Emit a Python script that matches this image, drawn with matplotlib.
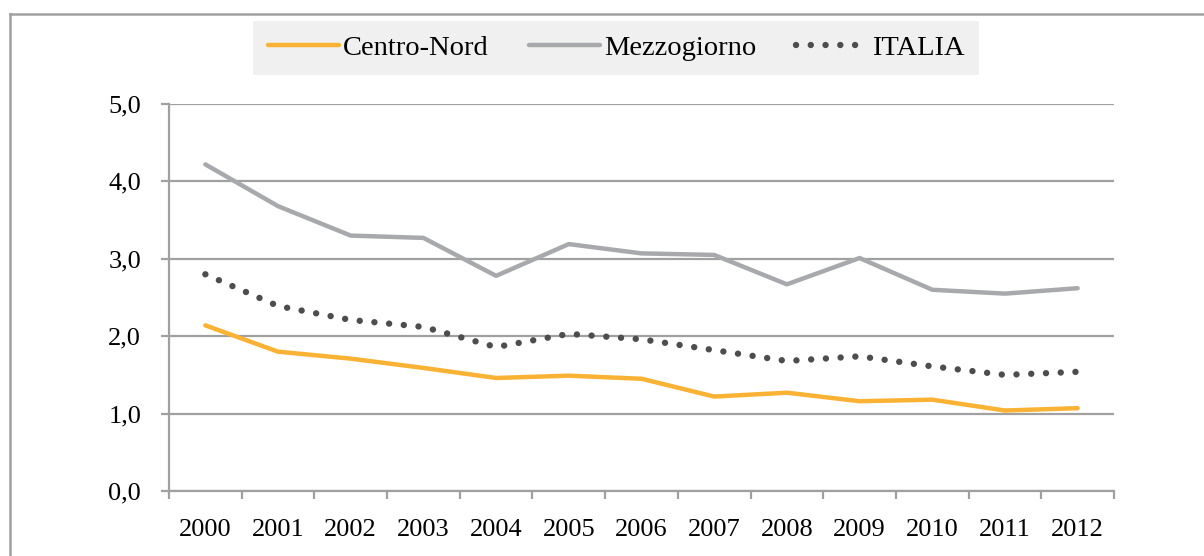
import matplotlib
matplotlib.use('Agg')
import matplotlib.pyplot as plt
from matplotlib.lines import Line2D
from matplotlib.ticker import FuncFormatter

plt.rcParams['font.family'] = ['Liberation Serif', 'DejaVu Serif']

years = ['2000', '2001', '2002', '2003', '2004', '2005', '2006',
         '2007', '2008', '2009', '2010', '2011', '2012']
centro_nord = [2.14, 1.80, 1.71, 1.59, 1.46, 1.49, 1.45, 1.22, 1.27, 1.16, 1.18, 1.04, 1.07]
mezzogiorno = [4.22, 3.68, 3.30, 3.27, 2.78, 3.19, 3.07, 3.05, 2.67, 3.01, 2.60, 2.55, 2.62]
italia = [2.80, 2.39, 2.21, 2.12, 1.86, 2.03, 1.96, 1.82, 1.68, 1.74, 1.61, 1.50, 1.54]

fig = plt.figure(figsize=(12.04, 5.56), dpi=100)
ax = fig.add_axes([169 / 1204, 1 - 491 / 556, (1114 - 169) / 1204, (491 - 104) / 556])

x = list(range(len(years)))
ax.plot(x, centro_nord, color='#F9B233', lw=3.2, label='Centro-Nord', solid_capstyle='round')
ax.plot(x, mezzogiorno, color='#A7A9AC', lw=3.2, label='Mezzogiorno', solid_capstyle='round')
ax.plot(x, italia, color='#4D4D4D', lw=4.6, linestyle=(0, (0.01, 2.3)),
        dash_capstyle='round', label='ITALIA')

ax.set_xlim(-0.5, len(years) - 0.5)
ax.set_ylim(0, 5)
ax.set_yticks([0, 1, 2, 3, 4, 5])
ax.yaxis.set_major_formatter(FuncFormatter(lambda v, p: ('%.1f' % v).replace('.', ',')))
ax.set_xticks(x)
ax.set_xticklabels(years)
ax.set_xticks([i - 0.5 for i in range(len(years) + 1)], minor=True)

grid_col = '#A0A0A0'
ax.grid(axis='y', color=grid_col, lw=1.6)
ax.set_axisbelow(True)
for s in ['top', 'right']:
    ax.spines[s].set_visible(False)
for s in ['left', 'bottom']:
    ax.spines[s].set_color(grid_col)
    ax.spines[s].set_linewidth(1.6)
ax.tick_params(axis='y', length=6, width=1.6, color=grid_col, pad=14, labelsize=19)
ax.tick_params(axis='x', which='major', length=0, pad=20, labelsize=19)
ax.tick_params(axis='x', which='minor', length=6, width=1.6, color=grid_col)

leg = fig.legend(loc='center', bbox_to_anchor=(616 / 1204, 1 - 48 / 556), ncol=3,
                 frameon=True, fancybox=False, fontsize=20.5, handlelength=2.5,
                 handletextpad=0.15, columnspacing=1.4, borderpad=0.5)
leg.get_frame().set_facecolor('#F0F0F0')
leg.get_frame().set_edgecolor('none')
leg.get_frame().set_alpha(1)

# outer frame (only top and left visible)
fig.add_artist(Line2D([10 / 1204, 1], [1 - 14 / 556, 1 - 14 / 556], color='#A0A0A0', lw=1.8))
fig.add_artist(Line2D([10 / 1204, 10 / 1204], [0, 1 - 14 / 556], color='#A0A0A0', lw=1.8))

fig.savefig('out.png', dpi=100)
